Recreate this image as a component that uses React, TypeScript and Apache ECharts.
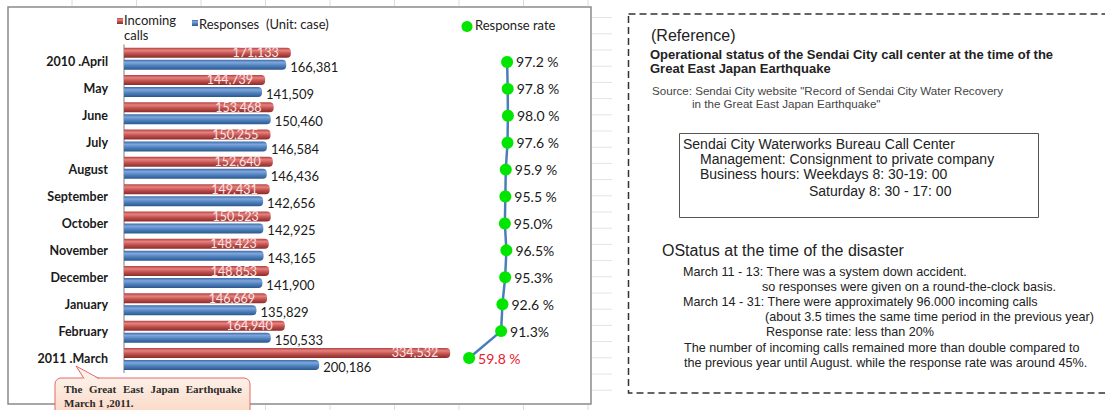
import React, { useEffect, useRef } from "react";
import * as echarts from "echarts";

const categories = ["2010 .April", "May", "June", "July", "August", "September", "October", "November", "December", "January", "February", "2011 .March"];
const incomingCalls = [171133, 144739, 153468, 150255, 152640, 149431, 150523, 148423, 148853, 146669, 164940, 334532];
const responses = [166381, 141509, 150460, 146584, 146436, 142656, 142925, 143165, 141900, 135829, 150533, 200186];
const responseRate = [97.2, 97.8, 98.0, 97.6, 95.9, 95.5, 95.0, 96.5, 95.3, 92.6, 91.3, 59.8];
const rateLabels = ["97.2 %", "97.8 %", "98.0 %", "97.6 %", "95.9 %", "95.5 %", "95.0%", "96.5%", "95.3%", "92.6 %", "91.3%", "59.8 %"];

const legendNames = ["Incoming", "calls", "Responses  (Unit: case)", "Response rate"];

const calloutWords = ["The", "Great", "East", "Japan", "Earthquake"];
const calloutLine2 = "March 1 ,2011.";

const panelTitle = "(Reference)";
const panelHeading = ["Operational status of the Sendai City call center at the time of the", "Great East Japan Earthquake"];
const panelSource = ["Source: Sendai City website \"Record of Sendai City Water Recovery", "in the Great East Japan Earthquake\""];
const boxLines = ["Sendai City Waterworks Bureau Call Center", "Management: Consignment to private company", "Business hours: Weekdays 8: 30-19: 00", "Saturday 8: 30 - 17: 00"];
const statusTitle = "OStatus at the time of the disaster";
const statusLines = [
  "March 11 - 13: There was a system down accident.",
  "so responses were given on a round-the-clock basis.",
  "March 14 - 31: There were approximately 96.000 incoming calls",
  "(about 3.5 times the same time period in the previous year)",
  "Response rate: less than 20%",
  "The number of incoming calls remained more than double compared to",
  "the previous year until August. while the response rate was around 45%.",
];

const fmt = (v: number) => v.toLocaleString("en-US");

const redGrad = () =>
  new echarts.graphic.LinearGradient(0, 0, 0, 1, [
    { offset: 0, color: "#b3413e" },
    { offset: 0.28, color: "#e5827f" },
    { offset: 0.6, color: "#c0504d" },
    { offset: 1, color: "#8a2c2a" },
  ]);
const blueGrad = () =>
  new echarts.graphic.LinearGradient(0, 0, 0, 1, [
    { offset: 0, color: "#3a6aa8" },
    { offset: 0.28, color: "#7fa6dc" },
    { offset: 0.6, color: "#4f81bd" },
    { offset: 1, color: "#2c578d" },
  ]);

export default function App() {
  const ref = useRef<HTMLDivElement>(null);
  useEffect(() => {
    if (!ref.current) return;
    const chart = echarts.init(ref.current, null, { renderer: "svg" });
    const sans = "Liberation Sans";
    const lato = "Lato";

    const graphics: any[] = [];
    // Excel-like faint gridlines outside the chart box
    const cols = [72, 136.5, 201, 265.5, 330, 394.5, 459, 523.5, 588];
    cols.forEach((x) => {
      graphics.push({ type: "line", z: 0, shape: { x1: x, y1: 0, x2: x, y2: 6 }, style: { stroke: "#dcdcdc", lineWidth: 1 } });
      graphics.push({ type: "line", z: 0, shape: { x1: x, y1: 405, x2: x, y2: 410 }, style: { stroke: "#dcdcdc", lineWidth: 1 } });
    });
    for (let k = 0; k < 24; k++) {
      const y = 17.6 + 16.2 * k;
      if (y > 404) break;
      graphics.push({ type: "line", z: 0, shape: { x1: 592, y1: y, x2: 612, y2: y }, style: { stroke: "#e4e4e4", lineWidth: 1 } });
    }
    // chart box
    graphics.push({ type: "rect", z: 0, shape: { x: 8, y: 7, width: 583, height: 397 }, style: { fill: "#ffffff", stroke: "#8a8a8a", lineWidth: 1.5 } });

    // legend
    graphics.push({ type: "rect", z: 10, shape: { x: 117, y: 18, width: 6, height: 6 }, style: { fill: redGrad() } });
    graphics.push({ type: "text", z: 10, x: 124, y: 20, style: { text: legendNames[0], font: `13px ${lato}`, fill: "#222", verticalAlign: "middle" } });
    graphics.push({ type: "text", z: 10, x: 124, y: 35, style: { text: legendNames[1], font: `13px ${lato}`, fill: "#222", verticalAlign: "middle" } });
    graphics.push({ type: "rect", z: 10, shape: { x: 192, y: 20, width: 6, height: 6 }, style: { fill: blueGrad() } });
    graphics.push({ type: "text", z: 10, x: 199, y: 23.5, style: { text: legendNames[2], font: `13px ${lato}`, fill: "#222", verticalAlign: "middle" } });
    graphics.push({ type: "circle", z: 10, shape: { cx: 467, cy: 26.5, r: 5.5 }, style: { fill: "#00e600" } });
    graphics.push({ type: "text", z: 10, x: 475, y: 24.5, style: { text: legendNames[3], font: `13px ${lato}`, fill: "#222", verticalAlign: "middle" } });

    // callout
    const calloutFill = new echarts.graphic.LinearGradient(0, 0, 0, 1, [
      { offset: 0, color: "#fdf0e8" },
      { offset: 1, color: "#fad5c0" },
    ]);
    graphics.push({ type: "rect", z: 100, shape: { x: 55, y: 378, width: 195, height: 42, r: 6 }, style: { fill: calloutFill, stroke: "#e06a6a", lineWidth: 1 } });
    graphics.push({ type: "polygon", z: 101, shape: { points: [[76, 366], [84, 379.5], [99, 379.5]] }, style: { fill: "#fdf0e8" } });
    graphics.push({ type: "polyline", z: 102, shape: { points: [[84, 378.5], [76, 366], [99, 378.5]] }, style: { stroke: "#e06a6a", lineWidth: 1, fill: "none" } });
    const wordX = [64, 89, 123, 150.5, 242];
    calloutWords.forEach((w, i) => {
      graphics.push({
        type: "text", z: 103, x: wordX[i], y: 388.5,
        style: { text: w, font: `bold 11px "Liberation Serif"`, fill: "#2a2a2a", verticalAlign: "middle", align: i === calloutWords.length - 1 ? "right" : "left" },
      });
    });
    graphics.push({ type: "text", z: 103, x: 64, y: 402.5, style: { text: calloutLine2, font: `bold 11px "Liberation Serif"`, fill: "#2a2a2a", verticalAlign: "middle" } });

    // right panel
    graphics.push({ type: "rect", z: 0, shape: { x: 628.5, y: 14, width: 500, height: 379 }, style: { fill: "none", stroke: "#333", lineWidth: 1.5, lineDash: [7, 4] } });
    graphics.push({ type: "text", z: 10, x: 651, y: 35, style: { text: panelTitle, font: `16px ${sans}`, fill: "#222", verticalAlign: "middle" } });
    panelHeading.forEach((t, i) => {
      graphics.push({ type: "text", z: 10, x: 650, y: 54 + i * 14, style: { text: t, font: `bold 13px ${sans}`, fill: "#222", verticalAlign: "middle" } });
    });
    graphics.push({ type: "text", z: 10, x: 652, y: 90, style: { text: panelSource[0], font: `11.6px ${sans}`, fill: "#444", verticalAlign: "middle" } });
    graphics.push({ type: "text", z: 10, x: 692, y: 103, style: { text: panelSource[1], font: `11.6px ${sans}`, fill: "#444", verticalAlign: "middle" } });
    graphics.push({ type: "rect", z: 0, shape: { x: 679.5, y: 133.5, width: 359, height: 84 }, style: { fill: "none", stroke: "#555", lineWidth: 1 } });
    const boxX = [683, 700, 700, 809];
    const boxY = [144, 159.2, 174.4, 191];
    boxLines.forEach((t, i) => {
      graphics.push({ type: "text", z: 10, x: boxX[i], y: boxY[i], style: { text: t, font: `14px ${sans}`, fill: "#222", verticalAlign: "middle" } });
    });
    graphics.push({ type: "text", z: 10, x: 662, y: 250, style: { text: statusTitle, font: `16px ${sans}`, fill: "#222", verticalAlign: "middle" } });
    const stX = [683, 762, 683, 765, 766, 684, 684];
    statusLines.forEach((t, i) => {
      graphics.push({ type: "text", z: 10, x: stX[i], y: 271.5 + i * 15.2, style: { text: t, font: `12.6px ${sans}`, fill: "#222", verticalAlign: "middle" } });
    });

    const option: any = {
      animation: false,
      backgroundColor: "#ffffff",
      grid: [
        { left: 124, top: 45, width: 390, height: 327.6 },
        { left: 124, top: 48.5, width: 390, height: 323 },
      ],
      xAxis: [
        { type: "value", gridIndex: 0, min: 0, max: 400000, show: false },
        { type: "value", gridIndex: 1, min: -280, max: 104, show: false },
      ],
      yAxis: [
        {
          type: "category",
          gridIndex: 0,
          data: categories,
          inverse: true,
          axisLine: { show: true, lineStyle: { color: "#a8a8a8", width: 1.5 } },
          axisTick: { show: false },
          axisLabel: { show: false },
          splitLine: { show: false },
        },
        {
          type: "category",
          gridIndex: 1,
          data: categories,
          inverse: true,
          axisLine: { show: false },
          axisTick: { show: false },
          splitLine: { show: false },
          axisLabel: { show: true, margin: 16, fontFamily: lato, fontWeight: "bold", fontSize: 12.5, color: "#1a1a1a" },
        },
      ],
      graphic: { elements: graphics },
      series: [
        {
          name: "Incoming calls",
          type: "bar",
          xAxisIndex: 0,
          yAxisIndex: 0,
          data: incomingCalls,
          barWidth: 10,
          barGap: "20%",
          itemStyle: { color: redGrad(), borderRadius: [0, 4, 4, 0] },
          label: {
            show: true,
            position: "insideRight",
            distance: 12,
            formatter: (p: any) => fmt(p.value),
            color: "#fbe4e4",
            fontFamily: lato,
            fontSize: 12.5,
          },
          z: 3,
        },
        {
          name: "Responses",
          type: "bar",
          xAxisIndex: 0,
          yAxisIndex: 0,
          data: responses,
          barWidth: 10,
          barGap: "20%",
          itemStyle: { color: blueGrad(), borderRadius: [0, 4, 4, 0] },
          label: {
            show: true,
            position: "right",
            distance: 4,
            offset: [0, 2],
            formatter: (p: any) => fmt(p.value),
            color: "#1a1a1a",
            fontFamily: lato,
            fontSize: 13,
          },
          z: 3,
        },
        {
          name: "Response rate",
          type: "line",
          xAxisIndex: 1,
          yAxisIndex: 1,
          data: responseRate.map((v, i) =>
            i === responseRate.length - 1 ? { value: v, label: { color: "#e8202a" } } : v
          ),
          symbol: "circle",
          symbolSize: 12,
          itemStyle: { color: "#00e600" },
          lineStyle: { color: "#4a7ebb", width: 2.5 },
          label: {
            show: true,
            position: "right",
            distance: 3,
            formatter: (p: any) => rateLabels[p.dataIndex],
            color: "#1a1a1a",
            fontFamily: lato,
            fontSize: 14,
          },
          z: 5,
        },
      ],
    };
    chart.setOption(option);
    return () => chart.dispose();
  }, []);
  return <div ref={ref} style={{ position: "absolute", left: 0, top: 0, width: 1105, height: 410 }} />;
}
